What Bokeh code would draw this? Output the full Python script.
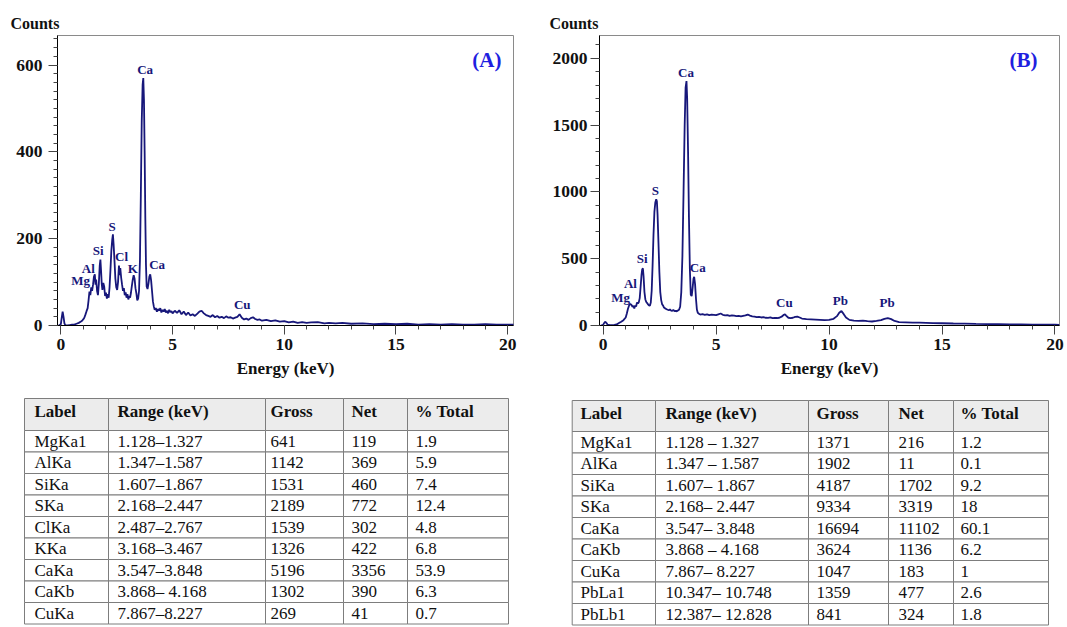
from bokeh.plotting import figure
from bokeh.models import Range1d, SingleIntervalTicker, Label
from bokeh.layouts import row, column
from bokeh.core.properties import value
from bokeh.embed import file_html
from bokeh.resources import INLINE

# ---------------- data: spectrum (A) ----------------
energy_a = [
    -0.10, -0.05, 0.00, 0.04, 0.08, 0.12, 0.16, 0.20, 0.30, 0.40,
    0.50, 0.60, 0.70, 0.80, 0.90, 0.95, 1.00, 1.05, 1.10, 1.15,
    1.20, 1.24, 1.28, 1.32, 1.36, 1.40, 1.44, 1.48, 1.52, 1.55,
    1.58, 1.62, 1.66, 1.70, 1.74, 1.77, 1.80, 1.83, 1.86, 1.90,
    1.94, 1.98, 2.02, 2.06, 2.10, 2.14, 2.18, 2.22, 2.26, 2.30,
    2.33, 2.36, 2.40, 2.44, 2.48, 2.52, 2.56, 2.60, 2.63, 2.66,
    2.70, 2.74, 2.78, 2.82, 2.86, 2.90, 2.94, 2.98, 3.02, 3.06,
    3.10, 3.14, 3.18, 3.22, 3.26, 3.30, 3.34, 3.38, 3.42, 3.46,
    3.50, 3.54, 3.58, 3.62, 3.66, 3.69, 3.72, 3.75, 3.78, 3.81,
    3.84, 3.88, 3.92, 3.96, 4.00, 4.04, 4.08, 4.12, 4.16, 4.20,
    4.25, 4.30, 4.35, 4.40, 4.45, 4.50, 4.55, 4.60, 4.65, 4.70,
    4.75, 4.80, 4.85, 4.90, 4.95, 5.00, 5.10, 5.20, 5.30, 5.40,
    5.50, 5.60, 5.70, 5.80, 5.90, 6.00, 6.10, 6.20, 6.30, 6.40,
    6.50, 6.60, 6.70, 6.80, 6.90, 7.00, 7.10, 7.20, 7.30, 7.40,
    7.50, 7.60, 7.70, 7.80, 7.90, 8.00, 8.10, 8.20, 8.30, 8.40,
    8.50, 8.60, 8.70, 8.80, 8.90, 9.00, 9.20, 9.40, 9.60, 9.80,
    10.0, 10.2, 10.4, 10.6, 10.8, 11.0, 11.2, 11.5, 11.8, 12.0,
    12.3, 12.6, 13.0, 13.5, 14.0, 14.5, 15.0, 15.5, 16.0, 16.5,
    17.0, 17.5, 18.0, 18.5, 19.0, 19.5, 20.0, 20.3,
]
counts_a = [
    0, 1, 3, 18, 32, 20, 5, 1, 0, 1,
    2, 2, 4, 6, 9, 11, 14, 18, 25, 33,
    40, 58, 78, 70, 88, 80, 94, 112, 118, 94,
    106, 80, 70, 96, 138, 152, 126, 96, 82, 98,
    90, 68, 76, 62, 72, 64, 88, 128, 172, 198,
    210, 188, 150, 108, 88, 82, 100, 138, 116, 132,
    110, 94, 80, 86, 70, 76, 64, 72, 60, 68,
    64, 76, 92, 106, 116, 108, 86, 74, 58, 62,
    80, 150, 300, 470, 555, 570, 520, 400, 250, 140,
    90, 84, 96, 112, 118, 104, 80, 56, 44, 36,
    40, 32, 38, 34, 40, 30, 36, 32, 38, 30,
    34, 28, 36, 31, 33, 28, 34, 29, 35, 26,
    32, 24, 30, 23, 26, 22, 27, 32, 34, 28,
    24, 22, 20, 24, 19, 22, 18, 20, 17, 21,
    18, 19, 16, 18, 20, 26, 18, 14, 16, 13,
    17, 19, 15, 13, 14, 11, 13, 10, 12, 9,
    10, 7, 9, 6, 8, 6, 7, 8, 5, 6,
    5, 6, 4, 5, 3, 4, 3, 4, 2, 3,
    2, 3, 2, 2, 3, 2, 2, 2,
]
peak_names_a = ["Ca", "S", "Si", "Cl", "Al", "Mg", "K", "Ca", "Cu"]
peak_x_a = [3.77, 2.30, 1.67, 2.72, 1.23, 0.88, 3.22, 4.31, 8.12]
peak_y_a = [589, 228, 172, 158, 131, 104, 131, 141, 49]

# ---------------- data: spectrum (B) ----------------
energy_b = [
    -0.10, -0.05, 0.00, 0.05, 0.10, 0.15, 0.20, 0.30, 0.40, 0.50,
    0.60, 0.70, 0.80, 0.90, 1.00, 1.05, 1.10, 1.15, 1.20, 1.25,
    1.30, 1.34, 1.38, 1.42, 1.46, 1.50, 1.54, 1.58, 1.62, 1.66,
    1.70, 1.73, 1.76, 1.79, 1.83, 1.87, 1.91, 1.95, 1.99, 2.03,
    2.07, 2.11, 2.15, 2.19, 2.23, 2.27, 2.31, 2.35, 2.38, 2.41,
    2.45, 2.49, 2.53, 2.57, 2.61, 2.65, 2.69, 2.73, 2.77, 2.81,
    2.86, 2.91, 2.96, 3.01, 3.06, 3.11, 3.16, 3.21, 3.26, 3.31,
    3.36, 3.41, 3.46, 3.51, 3.56, 3.61, 3.65, 3.69, 3.72, 3.76,
    3.80, 3.84, 3.88, 3.92, 3.96, 4.00, 4.03, 4.07, 4.11, 4.15,
    4.19, 4.24, 4.30, 4.40, 4.50, 4.60, 4.70, 4.80, 4.90, 5.00,
    5.10, 5.20, 5.30, 5.40, 5.50, 5.60, 5.70, 5.80, 5.90, 6.00,
    6.10, 6.20, 6.30, 6.40, 6.50, 6.60, 6.70, 6.80, 6.90, 7.00,
    7.10, 7.20, 7.30, 7.40, 7.50, 7.60, 7.70, 7.80, 7.90, 8.00,
    8.05, 8.10, 8.20, 8.30, 8.40, 8.50, 8.60, 8.70, 8.80, 8.90,
    9.00, 9.20, 9.40, 9.60, 9.80, 10.0, 10.2, 10.35, 10.45, 10.55,
    10.65, 10.75, 10.9, 11.1, 11.3, 11.5, 11.7, 11.9, 12.1, 12.3,
    12.45, 12.6, 12.75, 12.9, 13.1, 13.4, 13.7, 14.0, 14.3, 14.6,
    15.0, 15.5, 16.0, 16.5, 17.0, 17.5, 18.0, 18.5, 19.0, 19.5,
    20.0, 20.2,
]
counts_b = [
    0, 1, 5, 20, 28, 18, 6, 2, 3, 4,
    8, 18, 28, 40, 60, 90, 125, 150, 162, 156,
    140, 148, 128, 150, 142, 172, 165, 175, 205, 290,
    380, 420, 428, 370, 250, 195, 176, 168, 158, 150,
    148, 172, 260, 450, 680, 850, 920, 945, 930, 830,
    620, 400, 250, 190, 160, 150, 135, 130, 126, 122,
    118, 115, 120, 112, 110, 116, 108, 110, 106, 112,
    118, 140, 250, 520, 1000, 1500, 1780, 1830, 1700, 1300,
    800, 420, 230, 220, 280, 350, 365, 310, 200, 120,
    95, 88, 82, 85, 80, 84, 78, 82, 80, 78,
    84, 90, 80, 76, 78, 72, 76, 74, 70, 72,
    68, 72, 76, 82, 74, 68, 66, 62, 64, 60,
    62, 58, 57, 60, 55, 57, 56, 58, 66, 80,
    84, 74, 58, 55, 58, 64, 66, 60, 52, 50,
    48, 46, 44, 42, 40, 42, 50, 70, 95, 108,
    85, 60, 42, 36, 34, 36, 32, 30, 34, 40,
    50, 56, 48, 34, 26, 24, 22, 22, 20, 18,
    17, 15, 14, 12, 11, 10, 9, 8, 7, 6,
    6, 5,
]
peak_names_b = ["Ca", "S", "Si", "Ca", "Al", "Mg", "Cu", "Pb", "Pb"]
peak_x_b = [3.67, 2.31, 1.73, 4.19, 1.21, 0.77, 8.02, 10.5, 12.57]
peak_y_b = [1897, 1009, 502, 434, 316, 213, 169, 188, 171]

# ---------------- data: tables ----------------
table_header = ["Label", "Range (keV)", "Gross", "Net", "% Total"]

labels_a = ["MgKa1", "AlKa", "SiKa", "SKa", "ClKa", "KKa", "CaKa", "CaKb", "CuKa"]
ranges_a = ["1.128\u20131.327", "1.347\u20131.587", "1.607\u20131.867", "2.168\u20132.447",
            "2.487\u20132.767", "3.168\u20133.467", "3.547\u20133.848", "3.868\u2013 4.168",
            "7.867\u20138.227"]
gross_a = ["641", "1142", "1531", "2189", "1539", "1326", "5196", "1302", "269"]
net_a = ["119", "369", "460", "772", "302", "422", "3356", "390", "41"]
pct_a = ["1.9", "5.9", "7.4", "12.4", "4.8", "6.8", "53.9", "6.3", "0.7"]

labels_b = ["MgKa1", "AlKa", "SiKa", "SKa", "CaKa", "CaKb", "CuKa", "PbLa1", "PbLb1"]
ranges_b = ["1.128 \u2013 1.327", "1.347 \u2013 1.587", "1.607\u2013 1.867", "2.168\u2013 2.447",
            "3.547\u2013 3.848", "3.868 \u2013 4.168", "7.867\u2013 8.227", "10.347\u2013 10.748",
            "12.387\u2013 12.828"]
gross_b = ["1371", "1902", "4187", "9334", "16694", "3624", "1047", "1359", "841"]
net_b = ["216", "11", "1702", "3319", "11102", "1136", "183", "477", "324"]
pct_b = ["1.2", "0.1", "9.2", "18", "60.1", "6.2", "1", "2.6", "1.8"]

# ---------------- styles ----------------
SERIF = "Liberation Serif"
NAVY = "#17177a"
BLUE = "#1f1fe0"


def spectrum(w, h, borders, xr, yr, y_interval, y_minor, ystandoff, energy, counts,
             names, px, py, tag, tag_xy, counts_offset):
    bl, br, bt, bb = borders
    p = figure(width=w, height=h, x_range=Range1d(*xr), y_range=Range1d(*yr),
               toolbar_location=None, output_backend="svg",
               min_border_left=bl, min_border_right=br, min_border_top=bt, min_border_bottom=bb)
    p.background_fill_color = "white"
    p.border_fill_color = "white"
    p.outline_line_color = "#8a8a8a"
    p.outline_line_width = 1
    p.grid.visible = False
    p.xaxis.ticker = SingleIntervalTicker(interval=5, num_minor_ticks=5)
    p.yaxis.ticker = SingleIntervalTicker(interval=y_interval, num_minor_ticks=y_minor)
    for ax in (p.xaxis[0], p.yaxis[0]):
        ax.axis_line_color = "black"
        ax.major_tick_line_color = "#444444"
        ax.minor_tick_line_color = "#444444"
        ax.major_tick_in = 0
        ax.major_tick_out = 9
        ax.minor_tick_in = 0
        ax.minor_tick_out = 4
        ax.major_label_text_font = SERIF
        ax.major_label_text_font_style = "bold"
        ax.major_label_text_font_size = "17.5px"
        ax.major_label_text_color = "#111111"
    p.yaxis.major_label_standoff = ystandoff
    p.xaxis.major_label_standoff = 4
    p.xaxis.axis_label = "Energy (keV)"
    p.xaxis.axis_label_text_font = SERIF
    p.xaxis.axis_label_text_font_style = "bold"
    p.xaxis.axis_label_text_font_size = "17px"
    p.xaxis.axis_label_text_color = "#111111"
    p.xaxis.axis_label_standoff = 6

    # "Counts" as the title, shifted left over the y axis
    p.title.text = "Counts"
    p.title.align = "left"
    p.title.offset = counts_offset
    p.title.standoff = 7
    p.title.text_font = SERIF
    p.title.text_font_style = "bold"
    p.title.text_font_size = "16px"
    p.title.text_color = "#111111"

    p.line(energy, counts, line_color=NAVY, line_width=1.8)
    p.text(x=px, y=py, text=names, text_font=value(SERIF), text_font_style="bold",
           text_font_size="13px", text_color=NAVY, text_align="center",
           text_baseline="middle")
    p.add_layout(Label(x=tag_xy[0], y=tag_xy[1], text=tag, text_font=SERIF,
                       text_font_style="bold", text_font_size="21px", text_color=BLUE,
                       text_align="center", text_baseline="middle"))
    return p


pA = spectrum(540, 390, (57, 27, 35, 65), (-0.15, 20.26), (0, 668), 200, 10, 6,
              energy_a, counts_a, peak_names_a, peak_x_a, peak_y_a,
              "(A)", (19.07, 611), -47)
pB = spectrum(527, 390, (59, 8, 32, 63), (-0.16, 20.2), (0, 2171), 500, 5, 3,
              energy_b, counts_b, peak_names_b, peak_x_b, peak_y_b,
              "(B)", (18.61, 1985), -50)


def table(w, h, edges, text_x, top, header_h, row_h, columns):
    t = figure(width=w, height=h, x_range=Range1d(0, w), y_range=Range1d(h, 0),
               toolbar_location=None, output_backend="svg",
               x_axis_location=None, y_axis_location=None, min_border=0)
    t.outline_line_color = None
    t.grid.visible = False
    t.background_fill_color = "white"
    t.border_fill_color = "white"
    ncol = len(edges) - 1
    nrow = len(columns[0])
    # header cells
    t.quad(left=edges[:-1], right=edges[1:], top=[top] * ncol, bottom=[top + header_h] * ncol,
           fill_color="#ececec", line_color="#7d7d7d", line_width=1)
    # body cells
    L, R, T, B = [], [], [], []
    for r in range(nrow):
        for c in range(ncol):
            L.append(edges[c]); R.append(edges[c + 1])
            T.append(top + header_h + r * row_h); B.append(top + header_h + (r + 1) * row_h)
    t.quad(left=L, right=R, top=T, bottom=B, fill_color="white", line_color="#7d7d7d",
           line_width=1)
    t.text(x=text_x, y=[top + header_h * 0.42] * ncol, text=table_header,
           text_font=value(SERIF), text_font_style="bold", text_font_size="17px",
           text_color="#111111", text_baseline="middle")
    X, Y, S = [], [], []
    for c, col in enumerate(columns):
        for r, s in enumerate(col):
            X.append(text_x[c]); Y.append(top + header_h + (r + 0.5) * row_h); S.append(s)
    t.text(x=X, y=Y, text=S, text_font=value(SERIF), text_font_size="17px",
           text_color="#111111", text_baseline="middle")
    return t


tA = table(540, 237, [24, 108, 265, 343, 407, 508], [34, 117, 270, 351, 415],
           8, 32, 21.5, [labels_a, ranges_a, gross_a, net_a, pct_a])
tB = table(527, 237, [31.7, 115, 268, 348, 413, 508], [40, 125, 276, 358, 420],
           10, 31, 21.5, [labels_b, ranges_b, gross_b, net_b, pct_b])

layout = column(row(pA, pB), row(tA, tB))
open("out.html", "w").write(file_html(layout, INLINE))
